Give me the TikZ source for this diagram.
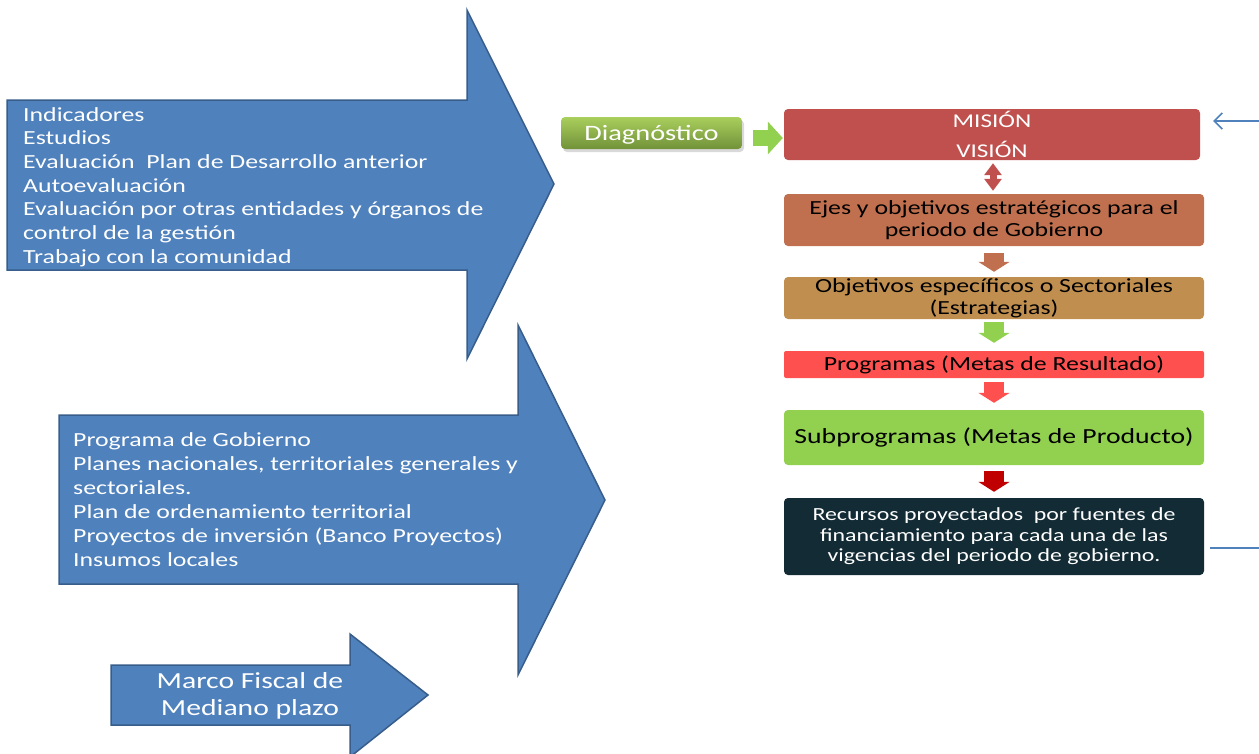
\documentclass[tikz,border=0pt]{standalone}
\usepackage{fontspec}
\setmainfont{Carlito}[FakeStretch=1.29]
\usetikzlibrary{arrows.meta,shadows}
\definecolor{arrowblue}{HTML}{4F81BD}
\definecolor{arrowedge}{HTML}{385D8A}
\definecolor{misred}{HTML}{C0504D}
\definecolor{ejescol}{HTML}{C0704E}
\definecolor{objcol}{HTML}{C08F50}
\definecolor{progcol}{HTML}{FF5050}
\definecolor{subpcol}{HTML}{92D050}
\definecolor{recurcol}{HTML}{132B35}
\definecolor{darkredcol}{HTML}{C00000}
\definecolor{diagtop}{HTML}{A9CF5C}
\definecolor{diagbot}{HTML}{72913A}
\begin{document}
\begin{tikzpicture}[x=1pt,y=-1pt,
  bigarrow/.style={fill=arrowblue,draw=arrowedge,line width=1.5pt,line join=miter},
  arrowtext/.style={text=white,align=left,inner sep=0pt,anchor=north west},
  flowbox/.style={rounded corners=4pt,minimum width=420pt,align=center,inner sep=0pt},
  flowarrow/.style={line width=20pt,-{Triangle[width=31pt,length=10pt]}},
  blueline/.style={draw=arrowblue,line width=1.5pt}
]
\useasboundingbox (0,0) rectangle (1259,753);

% big block arrows
\draw[bigarrow] (7,100) -- (467,100) -- (467,10) -- (554,184) -- (467,359) -- (467,270) -- (7,270) -- cycle;
\draw[bigarrow] (59,415) -- (518,415) -- (518,325) -- (605,500) -- (518,675) -- (518,584) -- (59,584) -- cycle;
\draw[bigarrow] (111,665) -- (350,665) -- (350,634) -- (428,695) -- (350,757) -- (350,725) -- (111,725) -- cycle;

\node[arrowtext,font=\fontsize{20}{23.7}\selectfont] (inputs1) at (23,107)
  {Indicadores\\Estudios\\Evaluación~ Plan de Desarrollo anterior\\Autoevaluación\\Evaluación por otras entidades y órganos de\\control de la gestión\\Trabajo con la comunidad};
\node[arrowtext,font=\fontsize{20}{24}\selectfont] (inputs2) at (73,432)
  {Programa de Gobierno\\Planes nacionales, territoriales generales y\\sectoriales.\\Plan de ordenamiento territorial\\Proyectos de inversión (Banco Proyectos)\\Insumos locales};
\node[text=white,align=center,inner sep=0pt,font=\fontsize{23}{27}\selectfont] (marco) at (250,696)
  {Marco Fiscal de\\Mediano plazo};

% right column
\node[rounded corners=4pt,minimum width=181pt,minimum height=32pt,inner sep=0pt,
  top color=diagtop,bottom color=diagbot,text=white,text height=17pt,text depth=1.5pt,
  drop shadow={shadow xshift=2pt,shadow yshift=-3pt,opacity=0.3},
  font=\fontsize{22}{26}\selectfont] (diag) at (651.5,133) {Diagnóstico};

\node[flowbox,fill=misred,minimum width=416pt,minimum height=51pt,text=white,
  font=\fontsize{19.5}{30}\selectfont] (mision) at (992,134.5) {MISIÓN\\VISIÓN};
\node[flowbox,fill=ejescol,minimum height=52pt,
  font=\fontsize{20}{22}\selectfont] (ejes) at (994,220) {Ejes y objetivos estratégicos para el\\periodo de Gobierno};
\node[flowbox,fill=objcol,minimum height=42pt,
  font=\fontsize{20}{22}\selectfont] (objet) at (994,298) {Objetivos específicos o Sectoriales\\(Estrategias)};
\node[flowbox,fill=progcol,rounded corners=2pt,minimum height=27pt,
  font=\fontsize{20}{22}\selectfont] (prog) at (994,364.5) {Programas (Metas de Resultado)};
\node[flowbox,fill=subpcol,minimum height=55pt,
  font=\fontsize{21.5}{25}\selectfont] (subp) at (994,437.5) {Subprogramas (Metas de Producto)};
\node[flowbox,fill=recurcol,minimum height=77pt,text=white,
  font=\fontsize{18.5}{20.5}\selectfont] (recur) at (994,536.5)
  {Recursos proyectados~ por fuentes de\\financiamiento para cada una de las\\vigencias del periodo de gobierno.};

% connectors
\draw[line width=16pt,-{Triangle[width=32pt,length=15pt]},draw=subpcol,shorten <=11pt,shorten >=1pt]
  ([yshift=-5pt]diag.east) -- ([yshift=-5pt]diag.east -| mision.west);
\draw[line width=7pt,{Triangle[width=17pt,length=12pt]}-{Triangle[width=17pt,length=12pt]},draw=misred,
  shorten <=3pt,shorten >=3pt] ([xshift=1pt]mision.south) -- ([xshift=1pt]mision.south |- ejes.north);
\draw[flowarrow,draw=ejescol,shorten <=7pt,shorten >=5pt] (ejes.south) -- (objet.north);
\draw[flowarrow,draw=subpcol,shorten <=3pt,shorten >=8pt] (objet.south) -- (prog.north);
\draw[flowarrow,draw=progcol,shorten <=4pt,shorten >=7pt] (prog.south) -- (subp.north);
\draw[flowarrow,draw=darkredcol,shorten <=6pt,shorten >=6pt] (subp.south) -- (recur.north);

% connector leaving the picture on the right
\coordinate (rtop) at (1259,121);
\coordinate (rbot) at (1259,548);
\draw[blueline,-{Straight Barb[length=8pt,width=16pt]},shorten >=13pt] (rtop) -- (rtop -| mision.east);
\draw[blueline,shorten <=6pt] (rbot -| recur.east) -- (rbot);
\end{tikzpicture}
\end{document}
